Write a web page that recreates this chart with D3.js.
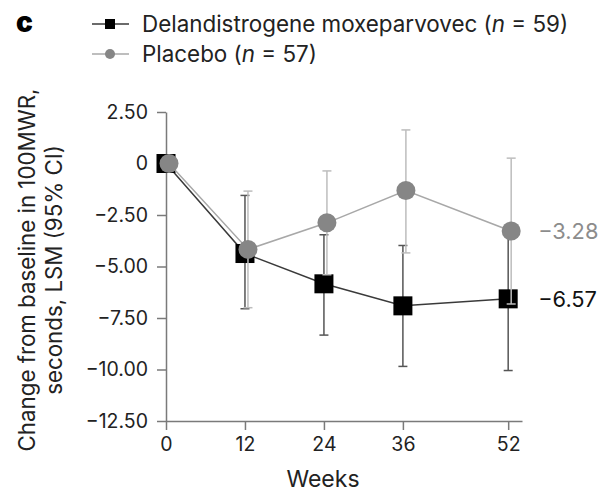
<!DOCTYPE html>
<html>
<head>
<meta charset="utf-8">
<script src="https://cdn.jsdelivr.net/npm/d3@7"></script>
<style>
  body { margin: 0; background: #fff; }
  svg { font-family: Inter, "Noto Sans", sans-serif; }
</style>
</head>
<body>
<svg id="chart" width="599" height="495"></svg>
<script>
// data
const weeks = [0, 12, 24, 36, 52];
const xTicks = [0, 12, 24, 36, 52];
const yTicks = [2.5, 0, -2.5, -5, -7.5, -10, -12.5];

const delMean  = [0, -4.37, -5.84, -6.91, -6.57];
const delLower = [null, -7.05, -8.33, -9.85, -10.05];
const delUpper = [null, -1.55, -3.46, -3.98, -3.09];

const plaMean  = [0, -4.17, -2.88, -1.31, -3.28];
const plaLower = [null, -7.00, -5.40, -4.34, -6.82];
const plaUpper = [null, -1.34, -0.36, 1.63, 0.26];

const legendLabels = ["Delandistrogene moxeparvovec (", "Placebo ("];
const legendN = ["59", "57"];

const svg = d3.select("#chart");

const x = d3.scaleLinear().domain([0, 54.1]).range([166, 522]);
const y = d3.scaleLinear().domain([-12.5, 2.5]).range([421, 112]);

const fmtY = d => d === 0 ? "0" : d3.format(".2f")(d).replace("-", "\u2013");

// axes
const yAxis = svg.append("g")
    .attr("transform", `translate(${x(0)},0)`)
    .call(d3.axisLeft(y).tickValues(yTicks).tickFormat(fmtY).tickSize(9).tickSizeOuter(0).tickPadding(9));

const xAxis = svg.append("g")
    .attr("transform", `translate(0,${y(-12.5)})`)
    .call(d3.axisBottom(x).tickValues(xTicks).tickFormat(d3.format("d")).tickSize(9).tickSizeOuter(0).tickPadding(7));

[yAxis, xAxis].forEach(g => {
  g.selectAll("path.domain").attr("stroke", "#7a7a7a").attr("stroke-width", 1.5);
  g.selectAll(".tick line").attr("stroke", "#7a7a7a").attr("stroke-width", 1.5);
  g.selectAll(".tick text").attr("fill", "#222").style("font-size", "19.5px").style("font-family", "Inter");
});

// axis titles
svg.append("text")
    .attr("x", 323).attr("y", 487)
    .attr("text-anchor", "middle")
    .attr("fill", "#222")
    .style("font-size", "23px")
    .text("Weeks");

const yTitle = svg.append("text")
    .attr("transform", "translate(35,270) rotate(-90)")
    .attr("text-anchor", "middle")
    .attr("fill", "#222")
    .style("font-size", "22.3px");
yTitle.append("tspan").attr("x", 0).attr("y", 0).text("Change from baseline in 100MWR,");
yTitle.append("tspan").attr("x", 0).attr("y", 27).text("seconds, LSM (95% CI)");

// series
const series = [
  { mean: delMean, lo: delLower, hi: delUpper, dx: 0,
    line: "#3a3a3a", bar: "#555", fill: "#000", shape: "square", label: "#111" },
  { mean: plaMean, lo: plaLower, hi: plaUpper, dx: 3,
    line: "#a8a8a8", bar: "#bdbdbd", fill: "#868686", shape: "circle", label: "#8c8c8c" }
];

const capW = 9;

series.forEach(s => {
  const pts = weeks.map((w, i) => ({ w, m: s.mean[i], lo: s.lo[i], hi: s.hi[i] }));
  const g = svg.append("g");

  // error bars
  const eb = g.selectAll(".eb").data(pts.filter(p => p.lo !== null)).enter().append("g")
      .attr("stroke", s.bar).attr("stroke-width", 1.5);
  eb.append("line")
      .attr("x1", p => x(p.w) + s.dx).attr("x2", p => x(p.w) + s.dx)
      .attr("y1", p => y(p.lo)).attr("y2", p => y(p.hi));
  eb.append("line")
      .attr("x1", p => x(p.w) + s.dx - capW / 2).attr("x2", p => x(p.w) + s.dx + capW / 2)
      .attr("y1", p => y(p.lo)).attr("y2", p => y(p.lo));
  eb.append("line")
      .attr("x1", p => x(p.w) + s.dx - capW / 2).attr("x2", p => x(p.w) + s.dx + capW / 2)
      .attr("y1", p => y(p.hi)).attr("y2", p => y(p.hi));

  // connecting line
  g.append("path")
      .datum(pts)
      .attr("fill", "none")
      .attr("stroke", s.line)
      .attr("stroke-width", 1.5)
      .attr("d", d3.line().x(p => x(p.w) + s.dx).y(p => y(p.m)));

  // markers
  if (s.shape === "square") {
    g.selectAll("rect.mk").data(pts).enter().append("rect")
        .attr("x", p => x(p.w) + s.dx - 9.5).attr("y", p => y(p.m) - 9.5)
        .attr("width", 19).attr("height", 19)
        .attr("fill", s.fill);
  } else {
    g.selectAll("circle.mk").data(pts).enter().append("circle")
        .attr("cx", p => x(p.w) + s.dx).attr("cy", p => y(p.m))
        .attr("r", 9.5)
        .attr("fill", s.fill);
  }

  // end value label
  const last = pts[pts.length - 1];
  svg.append("text")
      .attr("x", x(last.w) + 30).attr("y", y(last.m))
      .attr("dy", "0.36em")
      .attr("fill", s.label)
      .style("font-size", "21.8px")
      .text(d3.format(".2f")(last.m).replace("-", "\u2013"));
});

// panel letter
svg.append("text")
    .attr("x", 16).attr("y", 32)
    .style("font-weight", 900)
    .style("font-size", "28px")
    .attr("fill", "#000")
    .text("c");

// legend
const legend = svg.append("g");
series.forEach((s, i) => {
  const row = legend.append("g").attr("transform", `translate(0,${24 + i * 30})`);
  row.append("line").attr("x1", 92).attr("x2", 129).attr("y1", 0).attr("y2", 0)
      .attr("stroke", s.line).attr("stroke-width", 1.5);
  if (s.shape === "square") {
    row.append("rect").attr("x", 105).attr("y", -5).attr("width", 10).attr("height", 10).attr("fill", s.fill);
  } else {
    row.append("circle").attr("cx", 110).attr("cy", 0).attr("r", 5).attr("fill", s.fill);
  }
  const t = row.append("text").attr("x", 142).attr("y", 0).attr("dy", "0.36em")
      .attr("fill", "#222").style("font-size", "22.4px");
  t.append("tspan").text(legendLabels[i]);
  t.append("tspan").style("font-style", "italic").text("n");
  t.append("tspan").text(" = " + legendN[i] + ")");
});
</script>
</body>
</html>
